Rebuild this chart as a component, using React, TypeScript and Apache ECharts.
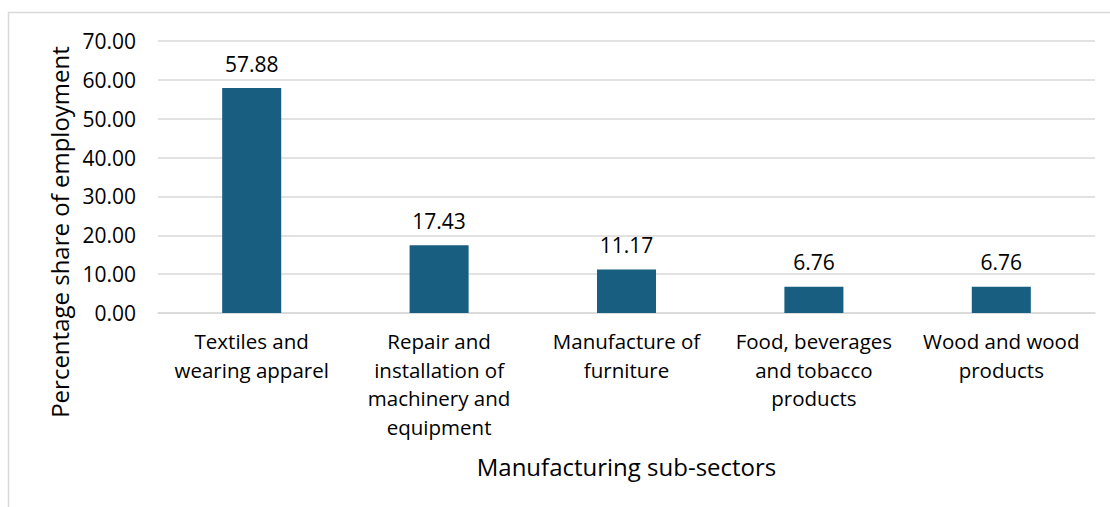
import React, { useEffect, useRef } from "react";
import * as echarts from "echarts";

const categories = [
  "Textiles and\nwearing apparel",
  "Repair and\ninstallation of\nmachinery and\nequipment",
  "Manufacture of\nfurniture",
  "Food, beverages\nand tobacco\nproducts",
  "Wood and wood\nproducts",
];
const values = [57.88, 17.43, 11.17, 6.76, 6.76];
const yTicks = { min: 0, max: 70, interval: 10 };

const FONT = "'Open Sans', 'Noto Sans', sans-serif";

export default function App() {
  const ref = useRef<HTMLDivElement>(null);
  useEffect(() => {
    const chart = echarts.init(ref.current!, null, { renderer: "svg" });
    chart.setOption({
      animation: false,
      backgroundColor: "#ffffff",
      graphic: [
        {
          type: "rect",
          shape: { x: 8.5, y: 12.5, width: 1200, height: 600 },
          style: { fill: "none", stroke: "#d9d9d9", lineWidth: 1.5 },
          silent: true,
        },
      ],
      grid: {
        left: 158,
        right: 15,
        top: 41,
        bottom: 194,
        outerBoundsMode: "none",
        containLabel: false,
      },
      xAxis: {
        type: "category",
        data: categories,
        axisTick: { show: false },
        axisLine: { lineStyle: { color: "#d9d9d9", width: 1.5 } },
        axisLabel: {
          color: "#000",
          fontFamily: FONT,
          fontSize: 20.5,
          lineHeight: 28.5,
          margin: 14,
          interval: 0,
        },
        name: "Manufacturing sub-sectors",
        nameLocation: "middle",
        nameGap: 141,
        nameTextStyle: { color: "#000", fontFamily: FONT, fontSize: 24 },
      },
      yAxis: {
        type: "value",
        min: yTicks.min,
        max: yTicks.max,
        interval: yTicks.interval,
        axisLabel: {
          color: "#000",
          fontFamily: FONT,
          fontSize: 21,
          margin: 22,
          formatter: (v: number) => v.toFixed(2),
        },
        splitLine: { lineStyle: { color: "#d9d9d9", width: 1.5 } },
        name: "Percentage share of employment",
        nameLocation: "middle",
        nameGap: 86,
        nameTextStyle: {
          color: "#000",
          fontFamily: FONT,
          fontSize: 24,
          padding: [0, 110, 0, 0],
        },
      },
      series: [
        {
          type: "bar",
          data: values,
          barWidth: "31.5%",
          itemStyle: { color: "#185e80" },
          label: {
            show: true,
            position: "top",
            distance: 14,
            color: "#000",
            fontFamily: FONT,
            fontSize: 21,
            formatter: (p: any) => p.value.toFixed(2),
          },
        },
      ],
    });
    return () => chart.dispose();
  }, []);
  return (
    <div
      ref={ref}
      style={{ position: "fixed", left: 0, top: 0, width: 1110, height: 507 }}
    />
  );
}
